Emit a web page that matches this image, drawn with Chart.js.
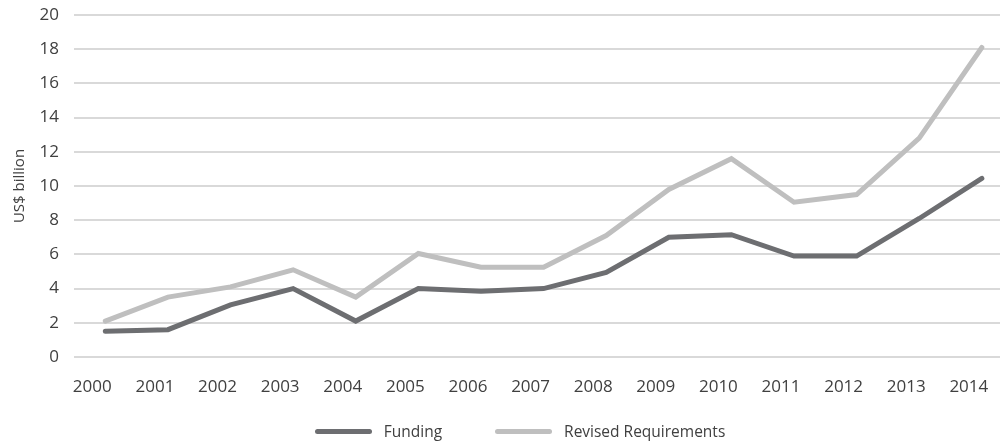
<!DOCTYPE html>
<html>
<head>
<meta charset="utf-8">
<title>Funding vs Revised Requirements</title>
<script src="https://cdn.jsdelivr.net/npm/chart.js@4.4.1/dist/chart.umd.min.js"></script>
<style>
  html, body { margin: 0; padding: 0; background: #fff; }
  #wrap { width: 1000px; height: 441px; position: relative; }
  #legend {
    position: absolute; left: 40px; right: 0; top: 420px; height: 22px;
    display: flex; justify-content: center; align-items: center; gap: 53px;
    font-family: 'Open Sans', 'Noto Sans', sans-serif; font-size: 15.5px; color: #404040;
  }
  #legend .item { display: flex; align-items: center; gap: 12px; }
  #legend .swatch { width: 57px; height: 5px; border-radius: 3px; }
</style>
</head>
<body>
<div id="wrap">
  <canvas id="trendChart"></canvas>
  <div id="legend"></div>
</div>
<script>
// Funding vs. revised requirements, 2000-2014 (US$ billion).
// Values.
const YEARS = [2000, 2001, 2002, 2003, 2004, 2005, 2006, 2007, 2008, 2009, 2010, 2011, 2012, 2013, 2014];
const FUNDING = [1.5, 1.6, 3.05, 4.0, 2.1, 4.0, 3.85, 4.0, 4.95, 7.0, 7.15, 5.9, 5.9, 8.1, 10.45];
const REVISED = [2.1, 3.5, 4.1, 5.1, 3.5, 6.05, 5.25, 5.25, 7.1, 9.8, 11.6, 9.05, 9.5, 12.8, 18.1];
const Y_TICKS = [0, 2, 4, 6, 8, 10, 12, 14, 16, 18, 20];

const INK = '#404040';
const GRID = '#d9d9d9';
const DARK = '#6d6e71';
const LIGHT = '#bfbfbf';

Chart.defaults.font.family = "'Open Sans', 'Noto Sans', sans-serif";
Chart.defaults.font.size = 17;
Chart.defaults.color = INK;

function points(values) {
    return values.map((v, i) => ({ x: YEARS[i], y: v }));
}

// Legend built as HTML from the datasets, so the spacing can follow the original.
const htmlLegend = {
    id: 'htmlLegend',
    afterUpdate(chart) {
        const box = document.getElementById('legend');
        box.innerHTML = '';
        chart.data.datasets.forEach((ds) => {
            const item = document.createElement('div');
            item.className = 'item';
            const sw = document.createElement('span');
            sw.className = 'swatch';
            sw.style.background = ds.borderColor;
            const txt = document.createElement('span');
            txt.textContent = ds.label;
            item.appendChild(sw);
            item.appendChild(txt);
            box.appendChild(item);
        });
    },
};

new Chart(document.getElementById('trendChart'), {
    type: 'line',
    data: {
        datasets: [
            {
                label: 'Funding',
                data: points(FUNDING),
                borderColor: DARK,
                backgroundColor: DARK,
                borderWidth: 5,
                pointRadius: 0,
                tension: 0,
                borderCapStyle: 'round',
            },
            {
                label: 'Revised Requirements',
                data: points(REVISED),
                borderColor: LIGHT,
                backgroundColor: LIGHT,
                borderWidth: 5,
                pointRadius: 0,
                tension: 0,
                borderCapStyle: 'round',
            },
        ],
    },
    plugins: [htmlLegend],
    options: {
        responsive: true,
        maintainAspectRatio: false,
        animation: false,
        layout: { padding: { top: 15, right: 0, bottom: 42, left: 0 } },
        plugins: {
            legend: { display: false },
            tooltip: { enabled: false },
        },
        scales: {
            x: {
                type: 'linear',
                min: 1999.5,
                max: 2014.29,
                grid: { display: false, drawTicks: false },
                border: { display: false },
                ticks: {
                    padding: 20,
                    labelOffset: -13,
                    color: INK,
                    maxRotation: 0,
                    callback: (v) => String(v),
                },
                afterBuildTicks: (scale) => {
                    scale.ticks = YEARS.map((y) => ({ value: y }));
                },
                afterFit: (scale) => {
                    scale.height = 42;
                    scale.paddingLeft = 0;
                    scale.paddingRight = 0;
                },
            },
            y: {
                min: 0,
                max: 20,
                grid: { color: GRID, lineWidth: 2, drawTicks: false },
                border: { display: false },
                ticks: { padding: 15, color: INK },
                afterBuildTicks: (scale) => {
                    scale.ticks = Y_TICKS.map((v) => ({ value: v }));
                },
                afterFit: (scale) => {
                    scale.width = 74;
                    scale.paddingTop = 0;
                    scale.paddingBottom = 0;
                },
                title: {
                    display: true,
                    text: 'US$ billion',
                    color: INK,
                    font: { size: 15 },
                    padding: { top: 11, bottom: 0 },
                },
            },
        },
    },
});
</script>
</body>
</html>
